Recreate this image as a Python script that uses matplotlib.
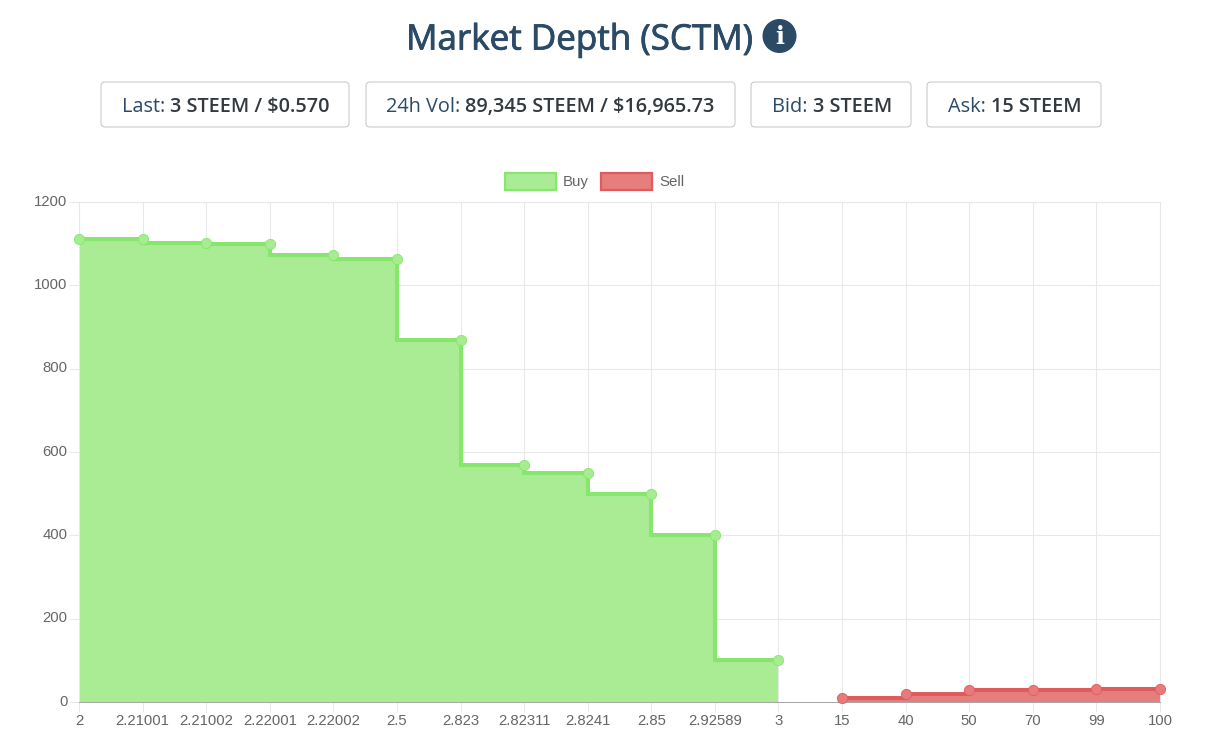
import matplotlib
matplotlib.use("Agg")
import matplotlib.pyplot as plt
import matplotlib.patheffects as pe
from matplotlib.patches import FancyBboxPatch, Rectangle, Circle
from matplotlib.transforms import ScaledTranslation

W, H = 1207, 752
categories = ["2", "2.21001", "2.21002", "2.22001", "2.22002", "2.5", "2.823", "2.82311",
              "2.8241", "2.85", "2.92589", "3", "15", "40", "50", "70", "99", "100"]
buy_values = [1112, 1112, 1101, 1100, 1072, 1063, 868, 568, 550, 500, 400, 100]
sell_values = [10, 20, 28, 30, 31, 32]
y_ticks = [0, 200, 400, 600, 800, 1000, 1200]
title = "Market Depth (SCTM)"
stats = [("Last: ", "3 STEEM / $0.570", 101, 349, 122),
         ("24h Vol: ", "89,345 STEEM / $16,965.73", 366, 735, 386),
         ("Bid: ", "3 STEEM", 751, 911, 772),
         ("Ask: ", "15 STEEM", 927, 1101, 948)]

BUY_FILL, BUY_LINE = "#a9ec94", "#86e66d"
SELL_FILL, SELL_LINE = "#e67e7e", "#e05c5c"
NAVY, DARK, GREY = "#2a4a66", "#333a3f", "#666666"

fig = plt.figure(figsize=(W / 100, H / 100), dpi=100, facecolor="white")
L, R, T, B = 79, 1160, 202, 702
ax = fig.add_axes([L / W, 1 - B / H, (R - L) / W, (B - T) / H])
xs = list(range(len(categories)))
bx = xs[:len(buy_values)]
sx = xs[len(buy_values):]

ax.fill_between(bx, buy_values, 0, step="pre", color=BUY_FILL, lw=0, zorder=2)
ax.fill_between(sx, sell_values, 0, step="post", color=SELL_FILL, lw=0, zorder=2)
ax.step(bx, buy_values, where="pre", color=BUY_LINE, lw=2.9, zorder=3, solid_joinstyle="miter")
ax.step(sx, sell_values, where="post", color=SELL_LINE, lw=2.9, zorder=3, solid_joinstyle="miter")
ax.plot(bx, buy_values, "o", ms=7.4, mfc="#a6ec90", mec=BUY_LINE, mew=0.6, zorder=4, clip_on=False)
ax.plot(sx, sell_values, "o", ms=7.4, mfc="#e77b7b", mec=SELL_LINE, mew=0.6, zorder=4, clip_on=False)

ax.set_xlim(0, len(categories) - 1)
ax.set_ylim(0, 1200)
ax.set_xticks(xs, categories)
ax.set_yticks(y_ticks)
ax.grid(True, color="#e8e8e8", lw=0.75, zorder=1)
ax.set_axisbelow(True)
ax.tick_params(axis="both", length=7.2, width=0.75, color="#e8e8e8", labelcolor=GREY,
               labelsize=10.7, labelfontfamily="Liberation Sans")
ax.tick_params(axis="x", pad=1.5)
ax.tick_params(axis="y", pad=1)
for lab in ax.get_yticklabels():
    lab.set_transform(lab.get_transform() + ScaledTranslation(0, 0.017, fig.dpi_scale_trans))
for side in ("top", "right", "left"):
    ax.spines[side].set_color("#e8e8e8")
ax.spines["bottom"].set_color("#a8a8a8")
for s in ax.spines.values():
    s.set_linewidth(0.75)

# page overlay in pixel coordinates
ov = fig.add_axes([0, 0, 1, 1], facecolor="none", zorder=5)
ov.set_xlim(0, W)
ov.set_ylim(H, 0)
ov.axis("off")

ov.text(406, 49.5, title, fontsize=25.2, family="Open Sans", color=NAVY, va="baseline", ha="left",
        path_effects=[pe.withStroke(linewidth=0.6, foreground=NAVY)])
ov.add_patch(Circle((779.5, 36), 17, color=NAVY, lw=0))
ov.text(779.5, 36.5, "i", fontsize=17, family="DejaVu Serif", weight="bold", color="white",
        va="center", ha="center")

renderer = fig.canvas.get_renderer()
for label, value, x0, x1, tx in stats:
    ov.add_patch(FancyBboxPatch((x0 + 4, 86), x1 - x0 - 8, 37, boxstyle="round,pad=4,rounding_size=4",
                                mutation_aspect=1, fc="white", ec="#c8c8c8", lw=0.75))
    t = ov.text(tx, 112, label, fontsize=14.3, family="Open Sans", color=NAVY, va="baseline", ha="left")
    w = t.get_window_extent(renderer).width
    ov.text(tx + w, 112, value, fontsize=14.3, family="Open Sans", weight=600, color=DARK,
            va="baseline", ha="left")

ov.add_patch(Rectangle((505, 173), 51, 17, fc=BUY_FILL, ec=BUY_LINE, lw=1.6))
ov.text(563, 182, "Buy", fontsize=10.8, family="Liberation Sans", color=GREY, va="center", ha="left")
ov.add_patch(Rectangle((601, 173), 51, 17, fc=SELL_FILL, ec=SELL_LINE, lw=1.6))
ov.text(659, 182, "Sell", fontsize=10.8, family="Liberation Sans", color=GREY, va="center", ha="left")

fig.savefig("out.png", dpi=100)
